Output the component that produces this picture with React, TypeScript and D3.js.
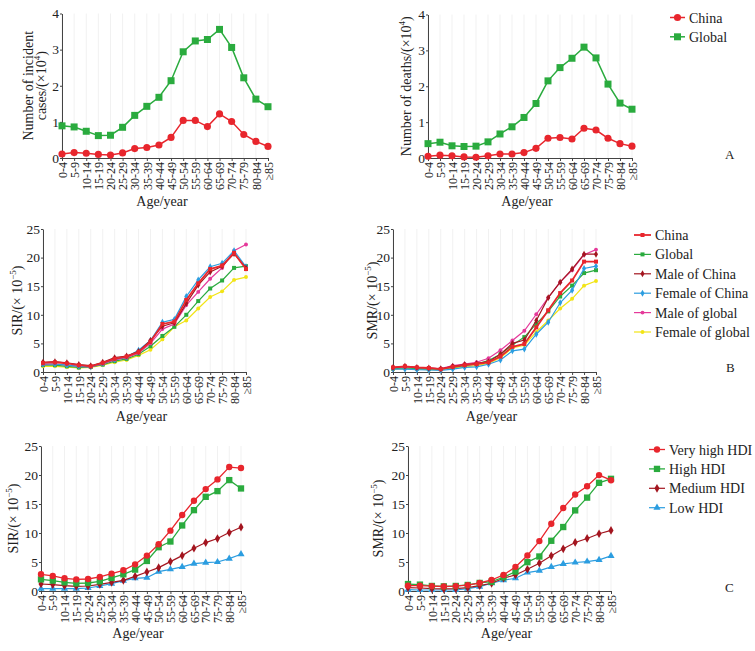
import * as d3 from 'd3'
import { useEffect, useRef } from 'react'

const width = 755
const height = 651

const ages = ['0-4', '5-9', '10-14', '15-19', '20-24', '25-29', '30-34', '35-39', '40-44', '45-49',
  '50-54', '55-59', '60-64', '65-69', '70-74', '75-79', '80-84', '≥85']

// A: counts (x10^4)
const incidentChina = [0.11, 0.15, 0.13, 0.1, 0.08, 0.14, 0.26, 0.29, 0.36, 0.57, 1.04, 1.04, 0.87, 1.22, 1.01, 0.65, 0.46, 0.32]
const incidentGlobal = [0.89, 0.86, 0.74, 0.62, 0.63, 0.85, 1.18, 1.43, 1.68, 2.14, 2.94, 3.24, 3.28, 3.56, 3.06, 2.22, 1.63, 1.42]
const deathsChina = [0.05, 0.08, 0.06, 0.03, 0.02, 0.06, 0.11, 0.11, 0.15, 0.27, 0.55, 0.57, 0.53, 0.83, 0.78, 0.55, 0.4, 0.33]
const deathsGlobal = [0.4, 0.44, 0.34, 0.32, 0.33, 0.45, 0.67, 0.87, 1.13, 1.52, 2.15, 2.52, 2.78, 3.09, 2.79, 2.06, 1.53, 1.36]

// B: rates by sex (x10^-5)
const sirChina = [1.6, 1.7, 1.5, 1.2, 1.0, 1.6, 2.3, 2.7, 3.5, 5.3, 8.4, 8.8, 12.6, 15.5, 18.0, 18.6, 20.8, 18.0]
const sirGlobal = [1.2, 1.2, 1.0, 0.8, 0.9, 1.3, 1.9, 2.3, 3.1, 4.5, 6.3, 7.9, 10.0, 12.4, 14.6, 16.0, 18.2, 18.5]
const sirMaleChina = [1.7, 1.8, 1.6, 1.3, 1.1, 1.7, 2.5, 2.8, 3.6, 5.5, 8.0, 8.6, 12.0, 15.2, 17.5, 18.5, 20.7, 18.2]
const sirFemaleChina = [1.4, 1.4, 1.2, 1.0, 0.9, 1.5, 2.2, 2.6, 3.8, 5.5, 8.7, 9.2, 13.2, 16.1, 18.4, 19.0, 21.2, 18.4]
const sirMaleGlobal = [1.3, 1.4, 1.2, 1.0, 0.9, 1.4, 2.1, 2.5, 3.3, 5.0, 7.5, 8.4, 11.7, 14.0, 16.3, 18.2, 21.2, 22.3]
const sirFemaleGlobal = [1.0, 1.0, 0.85, 0.7, 0.8, 1.2, 1.7, 2.1, 2.9, 3.9, 5.7, 7.9, 9.0, 11.1, 13.1, 14.1, 16.1, 16.6]

const smrChina = [0.8, 1.0, 0.8, 0.7, 0.5, 0.9, 1.2, 1.4, 1.7, 2.7, 4.4, 4.9, 7.8, 10.8, 13.8, 16.0, 19.3, 19.3]
const smrGlobal = [0.6, 0.7, 0.6, 0.5, 0.5, 0.8, 1.1, 1.4, 2.0, 3.1, 4.7, 6.1, 8.4, 10.6, 13.2, 15.1, 17.3, 17.8]
const smrMaleChina = [0.8, 1.0, 0.8, 0.7, 0.55, 1.0, 1.3, 1.5, 1.8, 3.1, 5.0, 5.6, 9.0, 13.0, 15.7, 18.0, 20.6, 20.6]
const smrFemaleChina = [0.5, 0.5, 0.4, 0.35, 0.3, 0.5, 0.8, 0.9, 1.35, 2.1, 3.7, 4.0, 6.6, 8.7, 12.1, 14.3, 18.1, 18.5]
const smrMaleGlobal = [0.7, 0.9, 0.8, 0.7, 0.6, 1.1, 1.4, 1.7, 2.4, 3.8, 5.5, 7.2, 10.1, 13.0, 15.7, 17.8, 20.5, 21.4]
const smrFemaleGlobal = [0.5, 0.6, 0.5, 0.4, 0.4, 0.7, 0.9, 1.1, 1.5, 2.5, 4.2, 4.7, 7.0, 9.0, 11.1, 12.8, 15.1, 15.9]

// C: rates by HDI (x10^-5)
const sirVeryHigh = [2.88, 2.6, 2.19, 2.0, 2.07, 2.42, 3.0, 3.57, 4.6, 6.1, 8.06, 10.4, 13.1, 15.55, 17.57, 19.24, 21.37, 21.2]
const sirHigh = [2.0, 1.79, 1.5, 1.32, 1.38, 1.67, 2.25, 2.88, 3.69, 5.18, 7.55, 8.53, 11.3, 13.94, 16.24, 17.22, 19.12, 17.68]
const sirMedium = [1.21, 1.1, 0.92, 0.81, 0.86, 1.15, 1.5, 1.84, 2.53, 3.28, 4.03, 5.07, 6.1, 7.37, 8.35, 9.04, 10.08, 11.0]
const sirLow = [0.4, 0.4, 0.4, 0.4, 0.52, 0.86, 1.27, 1.78, 2.19, 2.3, 3.34, 3.74, 4.15, 4.72, 4.9, 5.0, 5.59, 6.34]

const smrVeryHigh = [0.92, 0.92, 0.85, 0.78, 0.85, 1.02, 1.38, 1.9, 2.77, 4.16, 6.12, 8.6, 11.6, 14.3, 16.63, 18.07, 19.98, 19.1]
const smrHigh = [1.2, 1.1, 0.87, 0.8, 0.87, 1.04, 1.39, 1.6, 2.37, 3.35, 4.97, 5.95, 8.66, 11.03, 13.9, 16.1, 18.65, 19.34]
const smrMedium = [0.58, 0.52, 0.4, 0.35, 0.4, 0.58, 0.92, 1.33, 2.2, 2.77, 3.75, 4.8, 6.06, 7.27, 8.37, 9.06, 9.87, 10.45]
const smrLow = [0.23, 0.17, 0.17, 0.17, 0.17, 0.4, 0.75, 1.33, 1.85, 2.2, 3.18, 3.52, 4.16, 4.68, 4.91, 5.08, 5.37, 6.06]

const red = '#e8262d'
const green = '#2aab3e'
const darkRed = '#a3151f'
const blue = '#2b9de0'
const magenta = '#e5399a'
const yellow = '#f2e415'
const axisColor = '#444'
const font = '"Liberation Serif", "Times New Roman", serif'

type Marker = 'circle' | 'square' | 'diamond' | 'triangle'
type Series = { name: string; values: number[]; color: string; marker: Marker; size: number; lw: number }
type LabelPart = { t: string; sup?: boolean }
type Panel = {
  x0: number; x1: number; yBottom: number; yTop: number; max: number; step: number
  labels: { x: number; parts: LabelPart[] }[]
  ageY: number
  series: Series[]
}

const symbols: Record<Marker, d3.SymbolType> = {
  circle: d3.symbolCircle,
  square: d3.symbolSquare,
  diamond: d3.symbolDiamond,
  triangle: d3.symbolTriangle,
}

const incLabel: LabelPart[] = [{ t: 'cases/(×10' }, { t: '4', sup: true }, { t: ')' }]
const deathLabel: LabelPart[] = [{ t: 'Number of deaths/(×10' }, { t: '4', sup: true }, { t: ')' }]
const sirLabel: LabelPart[] = [{ t: 'SIR/(× 10' }, { t: '−5', sup: true }, { t: ')' }]
const smrLabel: LabelPart[] = [{ t: 'SMR/(× 10' }, { t: '−5', sup: true }, { t: ')' }]

const sA = (c: number[], g: number[]): Series[] => [
  { name: 'Global', values: g, color: green, marker: 'square', size: 49, lw: 1.5 },
  { name: 'China', values: c, color: red, marker: 'circle', size: 40, lw: 1.5 },
]
const sB = (c: number[], g: number[], mc: number[], fc: number[], mg: number[], fg: number[]): Series[] => [
  { name: 'Female of global', values: fg, color: yellow, marker: 'circle', size: 12, lw: 1.2 },
  { name: 'Global', values: g, color: green, marker: 'square', size: 16, lw: 1.2 },
  { name: 'Male of global', values: mg, color: magenta, marker: 'circle', size: 12, lw: 1.2 },
  { name: 'Female of China', values: fc, color: blue, marker: 'diamond', size: 14, lw: 1.2 },
  { name: 'Male of China', values: mc, color: darkRed, marker: 'diamond', size: 14, lw: 1.2 },
  { name: 'China', values: c, color: red, marker: 'square', size: 16, lw: 1.8 },
]
const sC = (vh: number[], h: number[], m: number[], l: number[]): Series[] => [
  { name: 'Low HDI', values: l, color: blue, marker: 'triangle', size: 22, lw: 1.2 },
  { name: 'Medium HDI', values: m, color: darkRed, marker: 'diamond', size: 22, lw: 1.2 },
  { name: 'High HDI', values: h, color: green, marker: 'square', size: 40, lw: 1.3 },
  { name: 'Very high HDI', values: vh, color: red, marker: 'circle', size: 32, lw: 1.3 },
]

const panels: Panel[] = [
  { x0: 62, x1: 268, yBottom: 158, yTop: 13.5, max: 4, step: 1, ageY: 206,
    labels: [{ x: 33, parts: [{ t: 'Number of incident' }] }, { x: 46, parts: incLabel }],
    series: sA(incidentChina, incidentGlobal) },
  { x0: 428, x1: 632, yBottom: 158, yTop: 14.5, max: 4, step: 1, ageY: 206,
    labels: [{ x: 411, parts: deathLabel }], series: sA(deathsChina, deathsGlobal) },
  { x0: 43, x1: 246, yBottom: 372, yTop: 229, max: 25, step: 5, ageY: 421,
    labels: [{ x: 22, parts: sirLabel }],
    series: sB(sirChina, sirGlobal, sirMaleChina, sirFemaleChina, sirMaleGlobal, sirFemaleGlobal) },
  { x0: 393, x1: 596, yBottom: 372, yTop: 229, max: 25, step: 5, ageY: 421,
    labels: [{ x: 377, parts: smrLabel }],
    series: sB(smrChina, smrGlobal, smrMaleChina, smrFemaleChina, smrMaleGlobal, smrFemaleGlobal) },
  { x0: 41, x1: 241, yBottom: 591, yTop: 446, max: 25, step: 5, ageY: 638,
    labels: [{ x: 18, parts: sirLabel }], series: sC(sirVeryHigh, sirHigh, sirMedium, sirLow) },
  { x0: 408, x1: 611, yBottom: 591, yTop: 446, max: 25, step: 5, ageY: 638,
    labels: [{ x: 383, parts: smrLabel }], series: sC(smrVeryHigh, smrHigh, smrMedium, smrLow) },
]

const legends = [
  { x: 670, y: 17.5, len: 15, gap: 19.3, letter: 'A', lx: 725, ly: 159, items: [...panels[0].series].reverse() },
  { x: 634, y: 235, len: 17, gap: 19.4, letter: 'B', lx: 726, ly: 372,
    items: ['China', 'Global', 'Male of China', 'Female of China', 'Male of global', 'Female of global']
      .map(n => panels[2].series.find(s => s.name === n)!) },
  { x: 649, y: 449.5, len: 16, gap: 19.4, letter: 'C', lx: 725, ly: 592, items: [...panels[4].series].reverse() },
]

function addRotatedLabel(svg: d3.Selection<SVGSVGElement, unknown, null, undefined>, x: number, y: number, parts: LabelPart[]) {
  const t = svg.append('text')
    .attr('transform', `translate(${x},${y}) rotate(-90)`)
    .attr('text-anchor', 'middle')
    .attr('font-family', font)
    .attr('font-size', 14)
    .attr('fill', '#222')
  parts.forEach((p, i) => {
    t.append('tspan')
      .attr('font-size', p.sup ? 9 : 14)
      .attr('dy', p.sup ? -6 : i > 0 ? 6 : 0)
      .text(p.t)
  })
}

export default function App() {
  const ref = useRef<SVGSVGElement>(null)

  useEffect(() => {
    const svg = d3.select(ref.current!)
    svg.selectAll('*').remove()

    panels.forEach(p => {
      const x = d3.scalePoint(ages, [p.x0, p.x1])
      const y = d3.scaleLinear([0, p.max], [p.yBottom, p.yTop])

      // faint vertical grid
      svg.append('g')
        .selectAll('line')
        .data(ages)
        .join('line')
        .attr('x1', d => x(d)!)
        .attr('x2', d => x(d)!)
        .attr('y1', p.yTop)
        .attr('y2', p.yBottom)
        .attr('stroke', '#f1f1f1')

      // y axis
      svg.append('g')
        .attr('transform', `translate(${p.x0},0)`)
        .call(d3.axisLeft(y).tickValues(d3.range(0, p.max + 0.001, p.step)).tickSize(2).tickSizeOuter(0).tickPadding(1).tickFormat(d3.format('d')))
        .call(g => g.selectAll('path,line').attr('stroke', axisColor))
        .call(g => g.selectAll('text').attr('font-family', font).attr('font-size', 13.5).attr('fill', '#222'))

      // x axis
      svg.append('g')
        .attr('transform', `translate(0,${p.yBottom})`)
        .call(d3.axisBottom(x).tickSize(3).tickSizeOuter(0))
        .call(g => g.selectAll('path,line').attr('stroke', axisColor))
        .call(g => g.selectAll('text')
          .attr('font-family', font)
          .attr('font-size', 12)
          .attr('fill', '#222')
          .attr('transform', 'rotate(-90)')
          .attr('text-anchor', 'end')
          .attr('x', -4)
          .attr('y', 0)
          .attr('dy', '0.35em'))

      svg.append('text')
        .attr('x', (p.x0 + p.x1) / 2 - 3)
        .attr('y', p.ageY)
        .attr('text-anchor', 'middle')
        .attr('font-family', font)
        .attr('font-size', 14)
        .attr('fill', '#222')
        .text('Age/year')

      p.labels.forEach(l => addRotatedLabel(svg, l.x, (p.yTop + p.yBottom) / 2, l.parts))

      const line = d3.line<number>()
        .x((_, i) => x(ages[i])!)
        .y(d => y(d))

      p.series.forEach(s => {
        svg.append('path')
          .attr('d', line(s.values))
          .attr('fill', 'none')
          .attr('stroke', s.color)
          .attr('stroke-width', s.lw)
        svg.append('g')
          .selectAll('path')
          .data(s.values)
          .join('path')
          .attr('transform', (d, i) => `translate(${x(ages[i])},${y(d)})`)
          .attr('d', d3.symbol(symbols[s.marker], s.size)())
          .attr('fill', s.color)
      })
    })

    legends.forEach(lg => {
      lg.items.forEach((s, i) => {
        const yy = lg.y + i * lg.gap
        svg.append('line')
          .attr('x1', lg.x).attr('x2', lg.x + lg.len)
          .attr('y1', yy).attr('y2', yy)
          .attr('stroke', s.color).attr('stroke-width', s.lw)
        svg.append('path')
          .attr('transform', `translate(${lg.x + lg.len / 2},${yy})`)
          .attr('d', d3.symbol(symbols[s.marker], s.size)())
          .attr('fill', s.color)
        svg.append('text')
          .attr('x', lg.x + lg.len + 4)
          .attr('y', yy + 5)
          .attr('font-family', font)
          .attr('font-size', 14)
          .attr('fill', '#222')
          .text(s.name)
      })
      svg.append('text')
        .attr('x', lg.lx)
        .attr('y', lg.ly)
        .attr('font-family', font)
        .attr('font-size', 13)
        .attr('fill', '#222')
        .text(lg.letter)
    })
  }, [])

  return (
    <svg
      ref={ref}
      width={width}
      height={height}
      viewBox={`0 0 ${width} ${height}`}
      style={{ position: 'absolute', left: 0, top: 0, background: '#fff' }}
    ></svg>
  )
}
